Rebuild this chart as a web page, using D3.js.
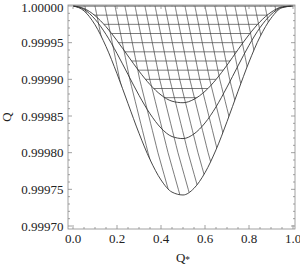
<!DOCTYPE html>
<html><head><meta charset="utf-8">
<script src="https://cdn.jsdelivr.net/npm/d3@7"></script>
<style>body{margin:0;background:#fff}svg{display:block}</style>
</head><body>
<svg id="c" width="300" height="267"></svg>
<script>
// ---- data ----
const qStar   = [0,0.05,0.10,0.15,0.20,0.25,0.30,0.35,0.40,0.45,0.50,0.55,0.60,0.65,0.70,0.75,0.80,0.85,0.90,0.95,1.00];
const innerQ  = [1,0.9999966,0.9999869,0.9999718,0.9999528,0.9999319,0.9999112,0.9998929,0.9998787,0.9998702,0.9998681,0.9998728,0.9998837,0.9998997,0.9999193,0.9999405,0.9999609,0.9999785,0.9999914,0.9999988,1];
const middleQ = [1,0.9999954,0.9999820,0.9999613,0.9999353,0.9999066,0.9998782,0.9998531,0.9998336,0.9998220,0.9998192,0.9998256,0.9998405,0.9998624,0.9998894,0.9999184,0.9999464,0.9999705,0.9999883,0.9999983,1];
const outerQ  = [1,0.9999934,0.9999744,0.9999448,0.9999077,0.9998669,0.9998265,0.9997906,0.9997628,0.9997462,0.9997423,0.9997514,0.9997727,0.9998039,0.9998423,0.9998837,0.9999236,0.9999580,0.9999833,0.9999976,1];
// horizontal mesh levels (inside the inner curve)
const hatchQ = [0.9999875,0.999975,0.9999625,0.99995,0.9999375,0.999925,0.9999125,0.9999,0.9998875,0.999875];
// slanted mesh lines: start position on Q = 1, and their drift with depth
const diagStart = [0.009,0.054,0.100,0.145,0.191,0.236,0.282,0.327,0.373,0.418,0.464,0.509,0.554,0.600,0.645,0.691,0.736,0.782,0.827,0.873,0.918,0.964];
const diagDepth = [0,0.0001,0.0002,0.00028];
const diagShift = [0,0.067,0.150,0.225];
const xTicks = [0,0.2,0.4,0.6,0.8,1.0];
const yTicks = [0.9997,0.99975,0.9998,0.99985,0.9999,0.99995,1.0];

// ---- layout ----
const svg = d3.select('#c');
const L = 68, R = 295, T = 5, B = 229;
const x = d3.scaleLinear().domain([0,1]).range([73,293]);
const y = d3.scaleLinear().domain([0.9997,1.0]).range([226,6]);
const frameCol = '#8a8a8a';

// choose a Times-like font that is really installed (Times digits are 0.5em wide)
const candidates = ['Liberation Serif','Times New Roman','Tinos','Times','Nimbus Roman','FreeSerif','serif'];
function widthOf(f){
  const p = svg.append('text').attr('font-family',f).attr('font-size',20).text('0.99995');
  const w = p.node().getComputedTextLength(); p.remove(); return w;
}
let FONT = 'serif', wBest = widthOf('serif');
for (const f of candidates){
  const w = widthOf(f);
  if (w > 60 && w < 69){ FONT = f; wBest = w; break; }
}
const FS = Math.min(13, Math.max(10.5, 20*43.5/wBest));

const defs = svg.append('defs');
function regionPath(arr){
  return d3.area().x((d,i)=>x(qStar[i])).y0(y(1)).y1((d,i)=>y(d)).curve(d3.curveMonotoneX)(arr);
}
defs.append('clipPath').attr('id','outerClip').append('path').attr('d',regionPath(outerQ));
defs.append('clipPath').attr('id','innerClip').append('path').attr('d',regionPath(innerQ));

// slanted mesh
const shift = d3.scaleLinear().domain(diagDepth).range(diagShift);
const gd = svg.append('g').attr('clip-path','url(#outerClip)');
const depthSamples = d3.range(0,0.000281,0.00001);
diagStart.forEach(x0=>{
  const pts = depthSamples.map(dp=>[x(x0+shift(dp)), y(1-dp)]);
  gd.append('path').attr('d',d3.line().curve(d3.curveCatmullRom)(pts))
    .attr('fill','none').attr('stroke','#444').attr('stroke-width',0.7);
});
// horizontal mesh
const gh = svg.append('g').attr('clip-path','url(#innerClip)');
hatchQ.forEach(q=>{
  gh.append('line').attr('x1',x(0)).attr('x2',x(1)).attr('y1',y(q)).attr('y2',y(q))
    .attr('stroke','#444').attr('stroke-width',0.7);
});

// curves
const line = d3.line().x((d,i)=>x(qStar[i])).y(d=>y(d)).curve(d3.curveMonotoneX);
[innerQ,middleQ,outerQ].forEach(arr=>{
  svg.append('path').attr('d',line(arr)).attr('fill','none').attr('stroke','#333').attr('stroke-width',0.9);
});
svg.append('line').attr('x1',x(0)).attr('x2',x(1)).attr('y1',y(1)).attr('y2',y(1))
  .attr('stroke','#333').attr('stroke-width',0.9);

// frame
svg.append('rect').attr('x',L).attr('y',T).attr('width',R-L).attr('height',B-T)
  .attr('fill','none').attr('stroke',frameCol).attr('stroke-width',0.8);
const tk = svg.append('g').attr('stroke',frameCol).attr('stroke-width',0.8);
const xMinor = d3.range(0,1.0001,0.05);
xMinor.forEach(v=>{
  const major = xTicks.some(t=>Math.abs(t-v)<1e-9);
  const len = major?4:2;
  tk.append('line').attr('x1',x(v)).attr('x2',x(v)).attr('y1',B).attr('y2',B-len);
  tk.append('line').attr('x1',x(v)).attr('x2',x(v)).attr('y1',T).attr('y2',T+len);
});
const yMinor = d3.range(0,31).map(i=>0.9997+i*0.00001);
yMinor.forEach((v,i)=>{
  const major = i%5===0;
  const len = major?4:2;
  tk.append('line').attr('y1',y(v)).attr('y2',y(v)).attr('x1',L).attr('x2',L+len);
  tk.append('line').attr('y1',y(v)).attr('y2',y(v)).attr('x1',R).attr('x2',R-len);
});

// labels
svg.append('g').selectAll('text').data(yTicks).join('text')
  .attr('x',L-4.5).attr('y',d=>Math.max(y(d)+FS*0.35, FS*0.95)).attr('text-anchor','end')
  .attr('font-family',FONT).attr('font-size',FS).attr('fill','#222')
  .text(d=>d3.format('.5f')(d));
svg.append('g').selectAll('text').data(xTicks).join('text')
  .attr('x',d=>x(d)).attr('y',242.5).attr('text-anchor','middle')
  .attr('font-family',FONT).attr('font-size',FS).attr('fill','#222')
  .text(d=>d3.format('.1f')(d));
const xl = svg.append('text').attr('x',183).attr('y',262).attr('text-anchor','middle')
  .attr('font-family',FONT).attr('font-size',FS).attr('fill','#222');
xl.append('tspan').text('Q');
xl.append('tspan').attr('font-size',FS*0.72).attr('dy',1).text('*');
svg.append('text').attr('transform','translate(11,117) rotate(-90)').attr('text-anchor','middle')
  .attr('font-family',FONT).attr('font-size',FS).attr('fill','#222').text('Q');
</script>
</body></html>
